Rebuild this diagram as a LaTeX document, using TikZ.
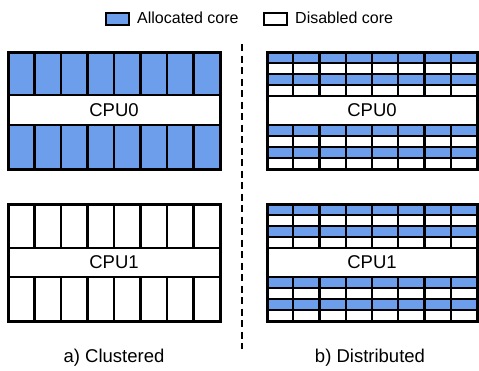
\documentclass[tikz,border=0pt]{standalone}
\usepackage{fontspec}
\setmainfont{Liberation Sans}
\definecolor{coreblue}{RGB}{109,158,235}
\begin{document}
\begin{tikzpicture}[x=1bp,y=-1bp,
  cell/.style={draw=black,line width=2.3bp},
  outer/.style={draw=black,line width=3bp},
  lbl/.style={font=\fontsize{18.5bp}{22bp}\selectfont,inner sep=0pt},
  leg/.style={font=\fontsize{16bp}{19bp}\selectfont,inner sep=0pt,anchor=west},
  legbox/.style={draw=black,line width=1.8bp}]
\useasboundingbox (0,0) rectangle (479,370);
% legend
\draw[legbox,fill=coreblue] (106,13) rectangle (129,25);
\node[leg] (legA) at (137,18) {Allocated core};
\draw[legbox,fill=white] (264,13) rectangle (287,25);
\node[leg] (legD) at (295,18) {Disabled core};
% ---- left: clustered ----
% CPU0
\foreach \i in {0,...,7}{
  \draw[cell,fill=coreblue] ({8+\i*26.5},52) rectangle ++(26.5,43);
  \draw[cell,fill=coreblue] ({8+\i*26.5},125) rectangle ++(26.5,44);
}
\draw[cell,fill=white] (8,95) rectangle (220,125);
\node[lbl] (c0a) at (114,110) {CPU0};
\draw[outer] (8,52) rectangle (220,169);
% CPU1
\foreach \i in {0,...,7}{
  \draw[cell,fill=white] ({8+\i*26.5},204) rectangle ++(26.5,44);
  \draw[cell,fill=white] ({8+\i*26.5},277) rectangle ++(26.5,44);
}
\draw[cell,fill=white] (8,248) rectangle (220,277);
\node[lbl] (c1a) at (114,262.5) {CPU1};
\draw[outer] (8,204) rectangle (220,321);
% ---- right: distributed ----
\foreach \top in {52,125,204,277}{
  \foreach \i in {0,...,7}{
    \draw[cell,fill=coreblue] ({267+\i*26.25},\top) rectangle ++(26.25,11);
    \draw[cell,fill=white] ({267+\i*26.25},\top+11) rectangle ++(26.25,11);
    \draw[cell,fill=coreblue] ({267+\i*26.25},\top+22) rectangle ++(26.25,11);
    \draw[cell,fill=white] ({267+\i*26.25},\top+33) rectangle ++(26.25,11);
  }
}
\draw[cell,fill=white] (267,96) rectangle (477,125);
\node[lbl] (c0b) at (372,110.5) {CPU0};
\draw[outer] (267,52) rectangle (477,169);
\draw[cell,fill=white] (267,248) rectangle (477,277);
\node[lbl] (c1b) at (372,262.5) {CPU1};
\draw[outer] (267,204) rectangle (477,321);
% divider
\coordinate (dtop) at (242,44);
\coordinate (dbot) at (242,349);
\draw[line width=1.7bp,dash pattern=on 7bp off 4.5bp] (dtop) -- (dbot);
% captions
\node[lbl] (capa) at (114,358) {a) Clustered};
\node[lbl] (capb) at (370,358) {b) Distributed};
\end{tikzpicture}
\end{document}
